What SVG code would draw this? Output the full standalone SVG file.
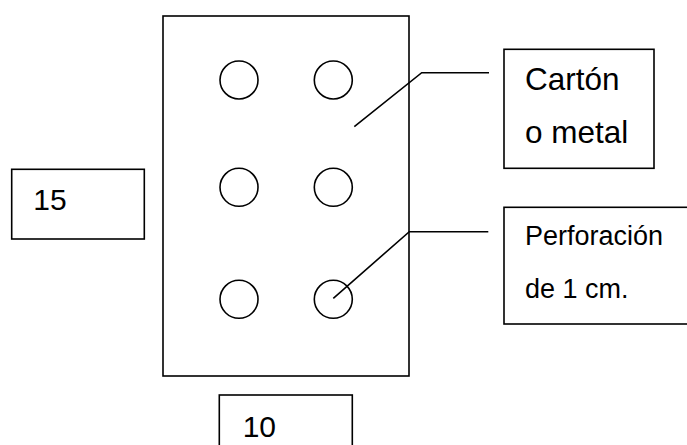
<svg xmlns="http://www.w3.org/2000/svg" width="687" height="445" viewBox="0 0 687 445">
<style>
.s{fill:none;stroke:#000;stroke-width:1.6}
.b{fill:#fff;stroke:#000;stroke-width:1.6}
.t{font-family:"Liberation Sans",Arial,sans-serif;fill:#000}
</style>
<rect width="687" height="445" fill="#fff"/>
<g id="plate">
<rect class="s" x="163" y="16" width="246" height="360"/>
<circle class="s" cx="239" cy="80" r="19"/>
<circle class="s" cx="333.3" cy="80" r="19"/>
<circle class="s" cx="239" cy="187.3" r="19"/>
<circle class="s" cx="333.3" cy="187.3" r="19"/>
<circle class="s" cx="239" cy="299.3" r="19"/>
<circle class="s" cx="333.3" cy="299.3" r="19"/>
</g>
<g id="connectors">
<polyline class="s" points="354.3,126.7 421.7,72.7 489,72.7"/>
<polyline class="s" points="333.3,298.3 409.3,231.7 488.3,231.7"/>
</g>
<g id="label-carton">
<rect class="b" x="504" y="49.3" width="150" height="119"/>
<text class="t" x="525" y="90" font-size="31.5">Cartón</text>
<text class="t" x="525" y="143.3" font-size="31.5">o metal</text>
</g>
<g id="label-perforacion">
<rect class="b" x="504" y="207.3" width="190" height="116.7"/>
<text class="t" x="525" y="245" font-size="27">Perforación</text>
<text class="t" x="525" y="298.3" font-size="27">de 1 cm.</text>
</g>
<g id="label-15">
<rect class="b" x="11.7" y="169.3" width="132.6" height="69.7"/>
<text class="t" x="33.3" y="210" font-size="30">15</text>
</g>
<g id="label-10">
<rect class="b" x="219.3" y="395" width="133" height="60"/>
<text class="t" x="242.7" y="436.7" font-size="30">10</text>
</g>
</svg>
